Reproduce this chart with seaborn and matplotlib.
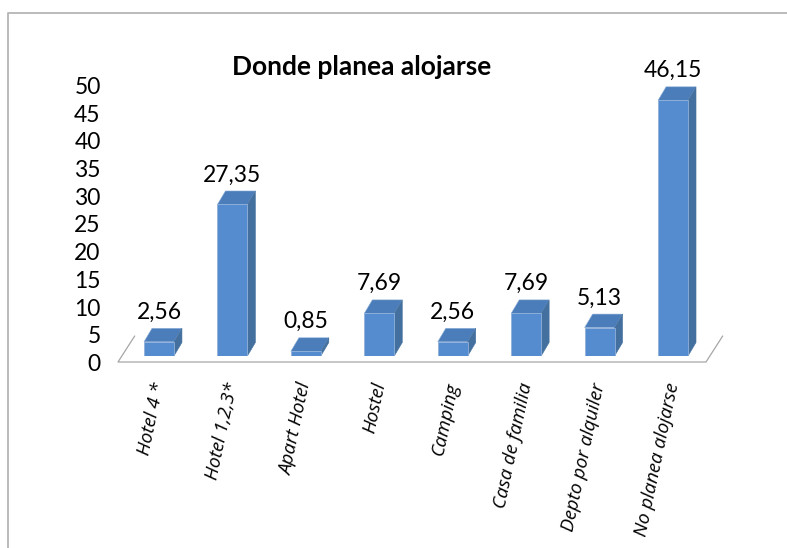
import matplotlib
matplotlib.use("Agg")
import matplotlib.pyplot as plt
import seaborn as sns
from matplotlib.lines import Line2D
from matplotlib.patches import Polygon
from matplotlib.transforms import ScaledTranslation

categories = ["Hotel 4 *", "Hotel 1,2,3*", "Apart Hotel", "Hostel", "Camping",
              "Casa de familia", "Depto por alquiler", "No planea alojarse"]
values = [2.56, 27.35, 0.85, 7.69, 2.56, 7.69, 5.13, 46.15]
value_labels = ["2,56", "27,35", "0,85", "7,69", "2,56", "7,69", "5,13", "46,15"]
y_ticks = [0, 5, 10, 15, 20, 25, 30, 35, 40, 45, 50]
title = "Donde planea alojarse"

FRONT = "#558BCF"
TOP = "#4A7DB9"
SIDE = "#44709F"
EDGE = "#8FB0DA"
W, H = 787, 548

sns.set_theme(style="white")
plt.rcParams["font.family"] = ["Lato", "DejaVu Sans"]

fig = plt.figure(figsize=(W / 100, H / 100), dpi=100)
# pixel geometry of plot area
left, right, y0, y50 = 122.25, 709.75, 356.0, 79.0
ax = fig.add_axes([left / W, 1 - y0 / H, (right - left) / W, (y0 - y50) / H])
sns.barplot(x=categories, y=values, color=FRONT, saturation=1, width=0.408, ax=ax,
            edgecolor=EDGE, linewidth=0.6, zorder=3)
ax.set_xlim(-0.5, 7.5)
ax.set_ylim(0, 50)
ax.set_yticks(y_ticks)
for s in ax.spines.values():
    s.set_visible(False)
ax.patch.set_alpha(0)
ax.grid(False)

px_per_x = (right - left) / 8
px_per_y = (y0 - y50) / 50
dx = 8 / px_per_x
dy = 13.5 / px_per_y

for bar, lab in zip(ax.patches, value_labels):
    x0, x1, h = bar.get_x(), bar.get_x() + bar.get_width(), bar.get_height()
    ax.add_patch(Polygon([(x0, h), (x1, h), (x1 + dx, h + dy), (x0 + dx, h + dy)],
                         closed=True, fc=TOP, ec=EDGE, lw=0.4, zorder=2, clip_on=False))
    ax.add_patch(Polygon([(x1, 0), (x1 + dx, dy), (x1 + dx, h + dy), (x1, h)],
                         closed=True, fc=SIDE, ec=SIDE, lw=0.4, zorder=2, clip_on=False))
    ax.annotate(lab, (x0 + bar.get_width() / 2, h + dy), xytext=(0, 4),
                textcoords="offset points", ha="center", va="bottom",
                fontsize=16.5, color="black", annotation_clip=False)

ax.tick_params(axis="y", length=0, pad=15.5, labelsize=16.5, labelcolor="black")
ax.tick_params(axis="x", length=0, pad=18, labelsize=13.5, labelcolor="black")
y_shift = ScaledTranslation(0, -6.5 / 100, fig.dpi_scale_trans)
for t in ax.get_yticklabels():
    t.set_transform(t.get_transform() + y_shift)
x_shift = ScaledTranslation(-8.5 / 100, 0, fig.dpi_scale_trans)
for t in ax.get_xticklabels():
    t.set_rotation(78)
    t.set_ha("right")
    t.set_va("top")
    t.set_rotation_mode("anchor")
    t.set_fontstyle("italic")
    t.set_fontfamily(["Open Sans", "DejaVu Sans"])
    t.set_transform(t.get_transform() + x_shift)

fig.text(362 / W, 1 - 67 / H, title, ha="center", va="center",
         fontsize=19, fontweight="bold", color="black")


def line(xs, ys, color, lw):
    fig.add_artist(Line2D([x / W for x in xs], [1 - y / H for y in ys],
                          color=color, lw=lw, transform=fig.transFigure))


# floor
line([134.7, 118, 706, 722.7], [336, 362, 362, 336], "#A6A6A6", 0.9)
# chart frame
line([7.5, 7.5, 787], [548, 12.5, 12.5], "#B5B5B5", 1.3)

fig.savefig("out.png", dpi=100, facecolor="white")
